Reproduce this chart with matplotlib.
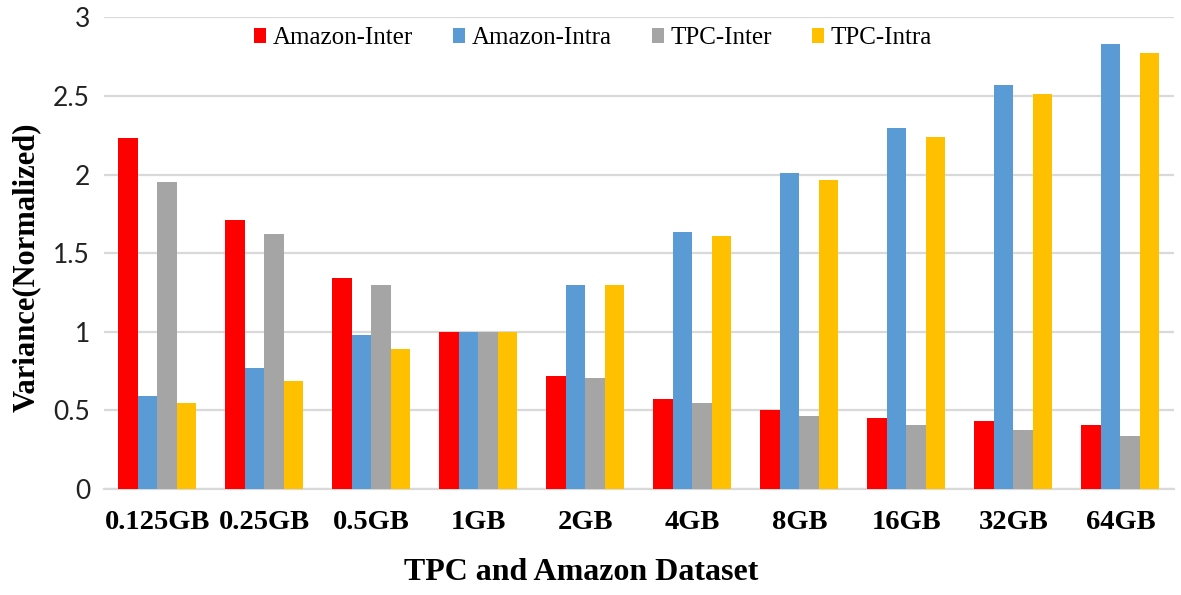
import numpy as np
import matplotlib
matplotlib.use('Agg')
import matplotlib.pyplot as plt

# Data
categories = ['0.125GB', '0.25GB', '0.5GB', '1GB', '2GB', '4GB', '8GB', '16GB', '32GB', '64GB']
amazon_inter = [2.23, 1.71, 1.34, 1.00, 0.72, 0.575, 0.505, 0.455, 0.43, 0.405]
amazon_intra = [0.595, 0.77, 0.98, 1.00, 1.30, 1.635, 2.01, 2.295, 2.57, 2.83]
tpc_inter = [1.95, 1.62, 1.30, 1.00, 0.705, 0.55, 0.465, 0.41, 0.375, 0.34]
tpc_intra = [0.55, 0.685, 0.89, 1.00, 1.30, 1.61, 1.965, 2.24, 2.51, 2.77]
series_names = ['Amazon-Inter', 'Amazon-Intra', 'TPC-Inter', 'TPC-Intra']
colors = ['#FF0000', '#5B9BD5', '#A5A5A5', '#FFC000']

fig = plt.figure(figsize=(11.81, 5.95), dpi=100)
ax = fig.add_axes([0.088, 0.178, 0.906, 0.793])

x = np.arange(len(categories))
width = 0.182
all_series = [amazon_inter, amazon_intra, tpc_inter, tpc_intra]
for i, (vals, name, c) in enumerate(zip(all_series, series_names, colors)):
    ax.bar(x + (i - 1.5) * width, vals, width, color=c, label=name, zorder=3)

ax.set_xlim(-0.5, 9.5)
ax.set_ylim(0, 3)
ax.set_yticks([0, 0.5, 1, 1.5, 2, 2.5, 3])
ax.set_yticklabels(['0', '0.5', '1', '1.5', '2', '2.5', '3'])
ax.set_xticks(x)
ax.set_xticklabels(categories, fontfamily='Liberation Serif', fontweight='bold', fontsize=20.5)
for lbl in ax.get_yticklabels():
    lbl.set_fontfamily('Lato')
    lbl.set_fontsize(19)
    lbl.set_color('#222222')
ax.tick_params(axis='both', length=0)
ax.tick_params(axis='x', pad=15)
ax.tick_params(axis='y', pad=10)

ax.grid(axis='y', color='#D9D9D9', linewidth=1.6, zorder=0)
for s in ['top', 'right', 'left']:
    ax.spines[s].set_visible(False)
ax.spines['bottom'].set_color('#D9D9D9')
ax.spines['bottom'].set_linewidth(1.6)

ax.set_xlabel('TPC and Amazon Dataset', fontfamily='Liberation Serif', fontweight='bold', fontsize=23)
ax.xaxis.set_label_coords(0.446, -0.145)
fig.text(0.022, 0.55, 'Variance(Normalized)', rotation=90, ha='center', va='center',
         fontfamily='Liberation Serif', fontweight='bold', fontsize=22)

ax.legend(loc='center', bbox_to_anchor=(0.457, 0.955), ncol=4, frameon=False,
          prop={'family': 'Liberation Serif', 'size': 18},
          handlelength=0.5, handleheight=0.5, handletextpad=0.25, columnspacing=1.6)

fig.savefig('out.png', dpi=100)
